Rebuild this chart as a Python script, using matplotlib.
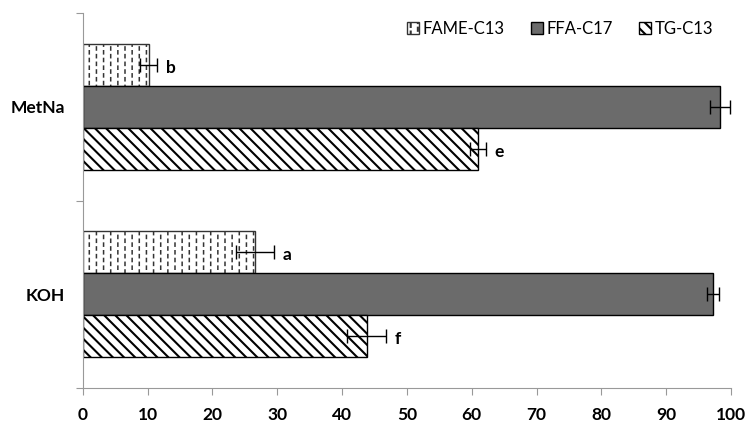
import matplotlib
matplotlib.use("Agg")
import matplotlib.pyplot as plt
import matplotlib.hatch as mhatch
from matplotlib.path import Path
import numpy as np
import warnings

warnings.filterwarnings("ignore")
plt.rcParams['font.family'] = ['Lato', 'DejaVu Sans']


class DashHatch(mhatch.HatchPatternBase):
    """Staggered short vertical dashes, used for ':' in a hatch string."""
    def __init__(self, hatch, density):
        n = hatch.count(':')
        self.cols = int(n * 14) if n else 0
        self.rows = int(n * 13) if n else 0
        self.num_vertices = self.cols * self.rows * 2

    def set_vertices_and_codes(self, vertices, codes):
        k = 0
        for c in range(self.cols):
            x = (c + 0.5) / self.cols
            shift = 0.5 if c % 2 else 0.0
            for r in range(self.rows):
                y0 = ((r + shift) / self.rows) % 1.0
                y1 = y0 + 0.4 / self.rows
                vertices[k] = (x, y0)
                vertices[k + 1] = (x, y1)
                codes[k] = Path.MOVETO
                codes[k + 1] = Path.LINETO
                k += 2


mhatch._hatch_types.append(DashHatch)

categories = ["KOH", "MetNa"]
series = ["FAME-C13", "FFA-C17", "TG-C13"]
fame = [26.6, 10.2]
fame_err = [2.9, 1.3]
ffa = [97.2, 98.3]
ffa_err = [0.9, 1.6]
tg = [43.8, 61.0]
tg_err = [3.0, 1.2]
fame_letters = ["a", "b"]
tg_letters = ["f", "e"]
xticks = list(range(0, 101, 10))

fig = plt.figure(figsize=(7.47, 4.26), dpi=100)
ax = fig.add_axes([0.1107, 0.0892, 0.868, 0.880])

y = np.array([0.5, 1.5])
h = 0.224
styles = [
    dict(color="white", hatch=":", edge="#333333", hlw=1.1),
    dict(color="#6b6b6b", hatch=None, edge="black", hlw=1.0),
    dict(color="white", hatch="\\\\\\", edge="black", hlw=1.5),
]
vals = [fame, ffa, tg]
errs = [fame_err, ffa_err, tg_err]
offs = [h, 0, -h]
for v, e, o, st, lab in zip(vals, errs, offs, styles, series):
    plt.rcParams['hatch.linewidth'] = st["hlw"]
    ax.barh(y + o, v, height=h, color=st["color"], hatch=st["hatch"],
            edgecolor=st["edge"], linewidth=1.0, label=lab, zorder=2)
    ax.errorbar(v, y + o, xerr=e, fmt="none", ecolor="black",
                elinewidth=1.0, capsize=5, capthick=1.0, zorder=3)

for v, e, yy, t in zip(fame, fame_err, y + h, fame_letters):
    ax.annotate(t, (v + e, yy), xytext=(6, -2), textcoords="offset points",
                ha="left", va="center", fontsize=12.5, fontweight="bold")
for v, e, yy, t in zip(tg, tg_err, y - h, tg_letters):
    ax.annotate(t, (v + e, yy), xytext=(6, -2), textcoords="offset points",
                ha="left", va="center", fontsize=12.5, fontweight="bold")

ax.set_xlim(0, 100)
ax.set_ylim(0, 2)
ax.set_xticks(xticks)
ax.set_xticklabels([str(t) for t in xticks], fontsize=12.5, fontweight="bold")
ax.set_yticks([0, 1, 2])
ax.set_yticklabels([])
ax.set_yticks(y, minor=True)
ax.set_yticklabels(categories, minor=True, fontsize=12.5, fontweight="bold")
ax.tick_params(axis="y", which="minor", length=0, pad=13)
ax.tick_params(axis="y", which="major", length=5, color="#999999")
ax.tick_params(axis="x", length=5, color="#999999", pad=9)
for s in ["top", "right"]:
    ax.spines[s].set_visible(False)
for s in ["left", "bottom"]:
    ax.spines[s].set_color("#999999")

leg = ax.legend(loc="center right", ncol=3, frameon=False, fontsize=12,
                handlelength=0.75, handleheight=0.75, handletextpad=0.2,
                columnspacing=1.55, borderpad=0, borderaxespad=0,
                bbox_to_anchor=(713 / 747, 1 - 29 / 426),
                bbox_transform=fig.transFigure)

fig.savefig("out.png", dpi=100)
